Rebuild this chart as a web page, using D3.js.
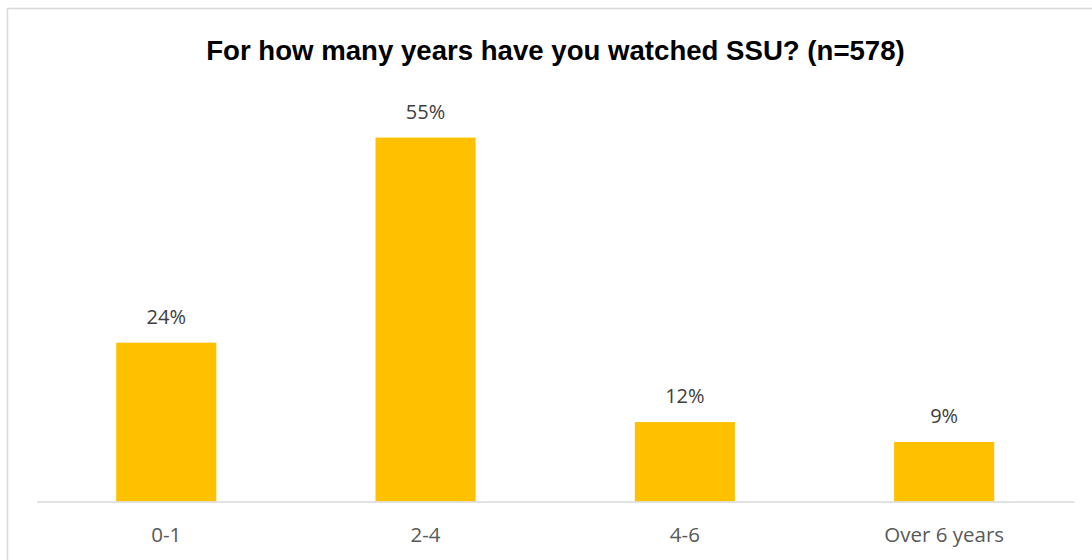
<!DOCTYPE html>
<html>
<head>
<meta charset="utf-8">
<script src="https://cdn.jsdelivr.net/npm/d3@7/dist/d3.min.js"></script>
<style>
  html, body { margin: 0; padding: 0; background: #fff; }
  svg { display: block; }
</style>
</head>
<body>
<svg id="chart" width="1092" height="560"></svg>
<script>
// Survey answers: years spent watching SSU
const categories = ["0-1", "2-4", "4-6", "Over 6 years"];
const percentages = [24, 55, 12, 9];
const yDomainMax = 60;
const chartTitle = "For how many years have you watched SSU? (n=578)";

const svg = d3.select("#chart");
const titleFont = "'Liberation Sans', Arial, sans-serif";
const labelFont = "'Open Sans', 'Liberation Sans', sans-serif";

// Outer chart frame (continues past the right and bottom edges)
svg.append("rect")
  .attr("x", 7.5).attr("y", 8.5)
  .attr("width", 1100).attr("height", 560)
  .attr("fill", "#fff")
  .attr("stroke", "#d9d9d9")
  .attr("stroke-width", 1.5);

const plot = { left: 36.6, right: 1073.8, top: 104.5, bottom: 501.5 };

const x = d3.scaleBand()
  .domain(categories)
  .range([plot.left, plot.right])
  .paddingInner(0.614)
  .paddingOuter(0.307);

const y = d3.scaleLinear()
  .domain([0, yDomainMax])
  .range([plot.bottom, plot.top]);

// Title
svg.append("text")
  .attr("x", 555.5)
  .attr("y", 60)
  .attr("text-anchor", "middle")
  .attr("font-family", titleFont)
  .attr("font-weight", "bold")
  .attr("font-size", 27.6)
  .attr("fill", "#000")
  .text(chartTitle);

const data = categories.map((c, i) => ({ category: c, value: percentages[i] }));

// Bars
svg.append("g")
  .selectAll("rect")
  .data(data)
  .join("rect")
  .attr("x", d => x(d.category))
  .attr("y", d => y(d.value))
  .attr("width", x.bandwidth())
  .attr("height", d => y(0) - y(d.value))
  .attr("fill", "#ffc000");

// Value labels above bars
svg.append("g")
  .selectAll("text")
  .data(data)
  .join("text")
  .attr("x", d => x(d.category) + x.bandwidth() / 2)
  .attr("y", d => y(d.value) - 19)
  .attr("text-anchor", "middle")
  .attr("font-family", labelFont)
  .attr("font-size", 20)
  .attr("fill", "#404040")
  .text(d => d.value + "%");

// Category axis
const xAxis = d3.axisBottom(x).tickSize(0).tickPadding(0);
const axisG = svg.append("g")
  .attr("transform", `translate(0,${plot.bottom})`)
  .call(xAxis);
axisG.select(".domain")
  .attr("stroke", "#d9d9d9")
  .attr("stroke-width", 1.5);
axisG.selectAll(".tick text")
  .attr("y", 40.5)
  .attr("dy", 0)
  .attr("font-family", labelFont)
  .attr("font-size", 20.5)
  .attr("fill", "#595959");
</script>
</body>
</html>
